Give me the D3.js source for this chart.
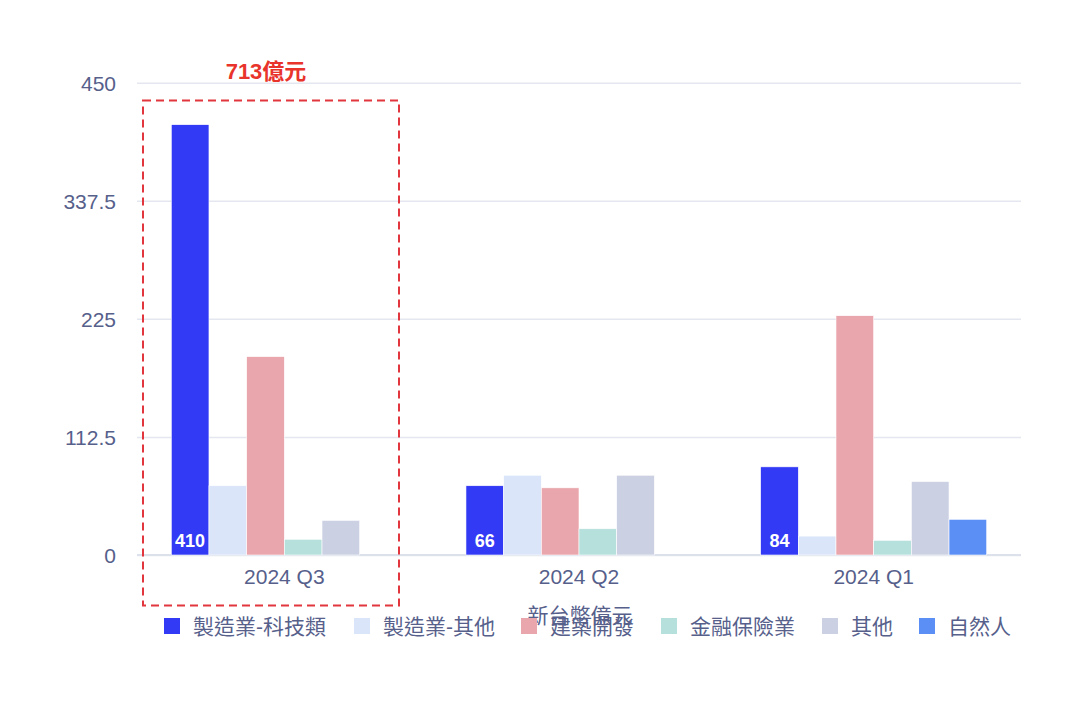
<!DOCTYPE html>
<html>
<head>
<meta charset="utf-8">
<script src="https://cdn.jsdelivr.net/npm/d3@7"></script>
<style>
  html, body { margin: 0; padding: 0; background: #ffffff; }
  svg { display: block; }
  text { font-family: "Helvetica Neue", Helvetica, "Liberation Sans", Arial, "Noto Sans CJK TC", sans-serif; }
</style>
</head>
<body>
<svg id="chart" width="1080" height="720"></svg>
<script>
// ---- data ----
const categories = ["2024 Q3", "2024 Q2", "2024 Q1"];
const seriesNames = ["製造業-科技類", "製造業-其他", "建築開發", "金融保險業", "其他", "自然人"];
const mfgTech   = [410, 66, 84];
const mfgOther  = [66, 76, 18];
const construct = [189, 64, 228];
const finance   = [15, 25, 14];
const others    = [33, 76, 70];
const natural   = [null, null, 34];
const yTicks = [0, 112.5, 225, 337.5, 450];
const yAxisName = "新台幣億元";
const highlightLabel = "713億元";
const seriesValues = [mfgTech, mfgOther, construct, finance, others, natural];
const colors = ["#333af5", "#dbe5f9", "#eaa6ad", "#b5e0db", "#cbd0e2", "#5b8ff6"];

const svg = d3.select("#chart");
const textColor = "#56608b";

const x0 = d3.scaleBand().domain(categories).range([137, 1021]).paddingInner(0).paddingOuter(0);
const x1 = d3.scaleBand().domain(seriesNames).range([0, x0.bandwidth()]).paddingInner(0).paddingOuter(0.91);
const y = d3.scaleLinear().domain([0, 450]).range([555, 82.7]);

// gridlines
const yAxis = d3.axisLeft(y).tickValues(yTicks).tickSize(-(1021 - 137)).tickFormat(d => d3.format("")(d));
const gAxis = svg.append("g").attr("transform", "translate(137,0)").call(yAxis);
gAxis.select(".domain").remove();
gAxis.selectAll(".tick line").attr("stroke", "#e4e7f0").attr("stroke-width", 1.5);
gAxis.selectAll(".tick text").attr("x", -21).attr("fill", textColor).attr("font-size", 21).attr("dy", "0.35em");

// baseline
svg.append("line").attr("x1", 137).attr("x2", 1021).attr("y1", y(0)).attr("y2", y(0))
  .attr("stroke", "#dde1eb").attr("stroke-width", 2);

// bars
const rows = [];
categories.forEach((c, ci) => {
  seriesNames.forEach((s, si) => {
    const v = seriesValues[si][ci];
    if (v !== null && v !== undefined) rows.push({ c, s, si, v });
  });
});
svg.append("g").selectAll("rect").data(rows).join("rect")
  .attr("x", d => x0(d.c) + x1(d.s))
  .attr("y", d => y(d.v))
  .attr("width", x1.bandwidth())
  .attr("height", d => y(0) - y(d.v))
  .attr("fill", d => colors[d.si])
  .attr("stroke", "#ffffff").attr("stroke-width", 0.6);

// labels on first series
svg.append("g").selectAll("text").data(rows.filter(d => d.si === 0)).join("text")
  .attr("x", d => x0(d.c) + x1(d.s) + x1.bandwidth() / 2)
  .attr("y", y(0) - 8)
  .attr("text-anchor", "middle")
  .attr("fill", "#ffffff").attr("font-weight", "bold").attr("font-size", 18)
  .text(d => d.v);

// x labels
svg.append("g").selectAll("text").data(categories).join("text")
  .attr("x", d => x0(d) + x0.bandwidth() / 2)
  .attr("y", 577).attr("dy", "0.35em")
  .attr("text-anchor", "middle").attr("fill", textColor).attr("font-size", 21)
  .text(d => d);

// axis name
svg.append("text").attr("x", 580).attr("y", 616).attr("dy", "0.35em")
  .attr("text-anchor", "middle").attr("fill", textColor).attr("font-size", 21)
  .text(yAxisName);

// highlight box
const hx = x0(categories[0]);
svg.append("rect").attr("x", hx + 6).attr("y", 100.5).attr("width", 399 - hx - 6).attr("height", 505)
  .attr("fill", "none").attr("stroke", "#e2363f").attr("stroke-width", 2).attr("stroke-dasharray", "8,5");
svg.append("text").attr("x", 266).attr("y", 71).attr("dy", "0.35em")
  .attr("text-anchor", "middle").attr("fill", "#e8342b").attr("font-weight", "bold").attr("font-size", 22)
  .text(highlightLabel);

// legend
const legendX = [164, 354, 521, 661, 822, 919];
const lg = svg.append("g").selectAll("g").data(seriesNames).join("g")
  .attr("transform", (d, i) => `translate(${legendX[i]},618)`);
lg.append("rect").attr("width", 16).attr("height", 16).attr("fill", (d, i) => colors[i]);
lg.append("text").attr("x", 29).attr("y", 9).attr("dy", "0.35em")
  .attr("fill", textColor).attr("font-size", 21).text(d => d);
</script>
</body>
</html>
